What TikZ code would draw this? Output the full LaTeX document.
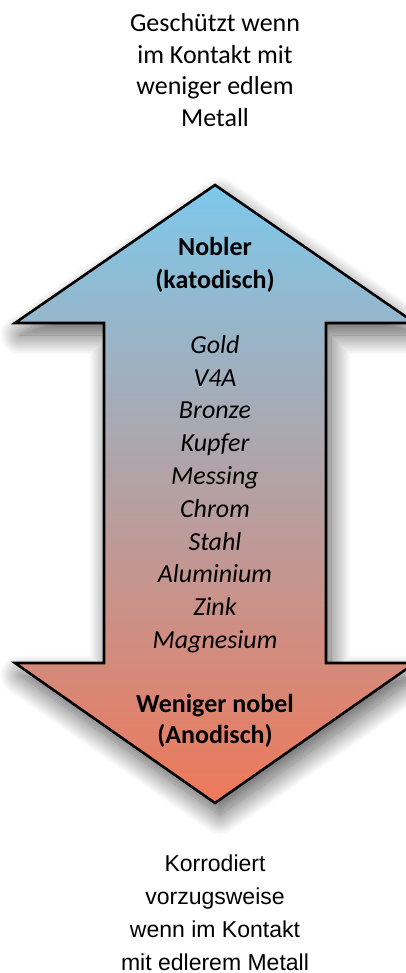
\documentclass[tikz,border=0pt]{standalone}
\usepackage{fontspec}
\setmainfont{Carlito}
\newfontfamily\arialfont{Liberation Sans}
\usetikzlibrary{shadows.blur}
\definecolor{topblue}{RGB}{125,200,235}
\definecolor{botorange}{RGB}{238,120,90}
\tikzset{
  caption/.style={align=center,inner sep=0pt,text=black},
  arrowtext/.style={align=center,inner sep=0pt,text=black},
}
\begin{document}
\begin{tikzpicture}[x=1pt,y=-1pt]
\useasboundingbox (0,0) rectangle (406,973);
% arrow
\coordinate (tip) at (215,185);
\coordinate (hr) at (415,323);
\coordinate (sr1) at (326,323);
\coordinate (sr2) at (326,663);
\coordinate (br) at (415,663);
\coordinate (btip) at (215,803);
\coordinate (bl) at (15,663);
\coordinate (sl2) at (104,663);
\coordinate (sl1) at (104,323);
\coordinate (hl) at (15,323);
\shade[top color=topblue,bottom color=botorange,draw=black,line width=2.6pt,line join=miter,
  blur shadow={shadow xshift=5pt,shadow yshift=-12pt,shadow blur radius=20pt,shadow blur steps=30,shadow opacity=65}]
  (tip) -- (hr) -- (sr1) -- (sr2) -- (br) -- (btip) -- (bl) -- (sl2) -- (sl1) -- (hl) -- cycle;
% texts
\node[caption,font=\fontsize{26}{31.7}\selectfont] (top) at (215,70)
  {Geschützt wenn\\im Kontakt mit\\weniger edlem\\Metall};
\node[arrowtext,font=\fontsize{26}{33}\selectfont\bfseries] (nob) at (215,265)
  {Nobler\\(katodisch)};
\node[arrowtext,font=\fontsize{26}{32.8}\selectfont\itshape] (list) at (215,494)
  {Gold\\V4A\\Bronze\\Kupfer\\Messing\\Chrom\\Stahl\\Aluminium\\Zink\\Magnesium};
\node[arrowtext,font=\fontsize{26}{31}\selectfont\bfseries] (wn) at (215,721)
  {Weniger nobel\\(Anodisch)};
\node[caption,font=\arialfont\fontsize{23}{33}\selectfont] (bot) at (215,913)
  {Korrodiert\\vorzugsweise\\wenn im Kontakt\\mit edlerem Metall};
\end{tikzpicture}
\end{document}
